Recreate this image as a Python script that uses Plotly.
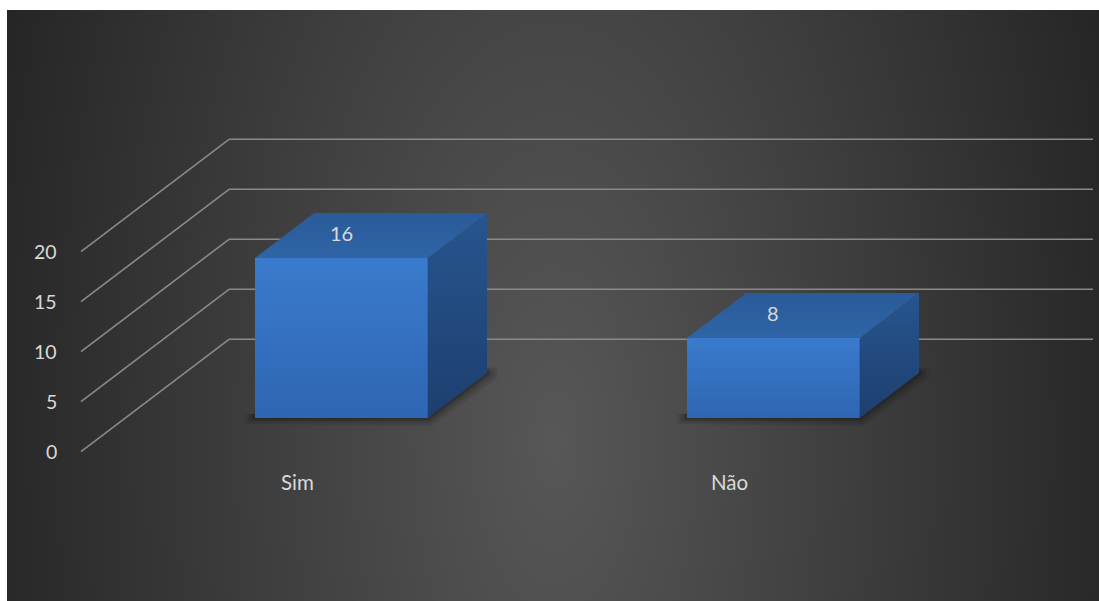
import base64
import plotly.graph_objects as go

# ---- data -------------------------------------------------------------
categories = ["Sim", "Não"]
values = [16, 8]
tick_values = [0, 5, 10, 15, 20]

# ---- oblique 3-D projection ------------------------------------------
# model space: x in category units (0..2), v in value units, d = depth 0..1
DEPTH_X = 148 / 432       # horizontal shift of the back wall (category units)
DEPTH_Y = 11.24           # vertical shift of the back wall (value units)
BAR_HALF = 0.2            # half bar width (gap width 150%)
D0, D1 = 0.3, 0.7         # bar depth span (gap depth 150%)
X_RANGE = [-81 / 432, (1099 - 81) / 432]
Y_RANGE = [(451.7 - 601) / 10, 451.7 / 10]
PX = 1 / 432              # one screen pixel in category units
PY = 1 / 10               # one screen pixel in value units

FONT = "Lato, 'Open Sans', sans-serif"
TEXT_COLOR = "#d9d9d9"
GRID_COLOR = "#8a8a8a"


def proj(x, v, d):
    return x + DEPTH_X * d, v + DEPTH_Y * d


def polygon(points, fill=None, gradient=None, opacity=1.0):
    xs, ys = zip(*points)
    kw = dict(fillgradient=gradient) if gradient else dict(fillcolor=fill)
    return go.Scatter(
        x=list(xs) + [xs[0]], y=list(ys) + [ys[0]], mode="lines",
        line=dict(width=0, color="rgba(0,0,0,0)"), fill="toself",
        opacity=opacity, hoverinfo="skip", showlegend=False, **kw,
    )


fig = go.Figure()

# ---- walls: side wall and back wall gridlines --------------------------
gx, gy = [], []
n_cat = len(categories)
for t in tick_values:
    for a, b in ((proj(0, t, 0), proj(0, t, 1)), (proj(0, t, 1), proj(n_cat, t, 1))):
        gx += [a[0], b[0], None]
        gy += [a[1], b[1], None]
fig.add_trace(go.Scatter(x=gx, y=gy, mode="lines",
                         line=dict(color=GRID_COLOR, width=1.6),
                         hoverinfo="skip", showlegend=False))

# ---- columns -----------------------------------------------------------
for i, (cat, val) in enumerate(zip(categories, values)):
    c = i + 0.5
    x0, x1 = c - BAR_HALF, c + BAR_HALF

    fbl = proj(x0, 0, D0)
    fbr = proj(x1, 0, D0)
    ftl = proj(x0, val, D0)
    ftr = proj(x1, val, D0)
    bbr = proj(x1, 0, D1)
    btr = proj(x1, val, D1)
    btl = proj(x0, val, D1)

    # soft shadow around the base
    for k, op in ((10, 0.10), (7, 0.12), (4, 0.16), (2, 0.2)):
        fig.add_trace(polygon([
            (fbl[0] - k * PX, fbl[1] + 4 * PY),
            (fbl[0] - k * PX, fbl[1] - k * 0.6 * PY),
            (fbr[0] + k * 0.4 * PX, fbr[1] - k * 0.8 * PY),
            (bbr[0] + k * PX, bbr[1] - k * 0.5 * PY),
            (bbr[0] + k * PX, bbr[1] + 6 * PY),
            (fbr[0], fbr[1] + 6 * PY),
        ], fill="#101010", opacity=op))

    # front face
    fig.add_trace(polygon([fbl, fbr, ftr, ftl], gradient=dict(
        type="vertical", start=fbl[1], stop=ftl[1],
        colorscale=[[0, "#2e66b2"], [1, "#3a7bcd"]])))
    # right face
    fig.add_trace(polygon([fbr, bbr, btr, ftr], gradient=dict(
        type="vertical", start=fbr[1], stop=btr[1],
        colorscale=[[0, "#1d3f6f"], [1, "#27558f"]])))
    # top face
    fig.add_trace(polygon([ftl, ftr, btr, btl], gradient=dict(
        type="vertical", start=ftl[1], stop=btl[1],
        colorscale=[[0, "#2f64a6"], [1, "#2a5b99"]])))

    # value label on the top face
    lx, _ = proj(c, val, D0)
    _, ly = proj(c, val, 0.5)
    fig.add_annotation(x=lx, y=ly, text=str(val), showarrow=False,
                       yshift=2.5, font=dict(family=FONT, size=20, color=TEXT_COLOR))

    # category label at the front edge of the floor
    fig.add_annotation(x=c, y=0, text=cat, showarrow=False, yshift=-30.5,
                       font=dict(family=FONT, size=20.5, color=TEXT_COLOR))

# ---- value axis labels along the front of the side wall ----------------
for t in tick_values:
    fig.add_annotation(x=0, y=t, text=str(t), showarrow=False,
                       xanchor="right", xshift=-22,
                       font=dict(family=FONT, size=19.5, color=TEXT_COLOR))

# ---- dark radial-gradient chart area -----------------------------------
W, H, LEFT, TOP = 1092, 591, 7, 10
svg = (
    f'<svg xmlns="http://www.w3.org/2000/svg" width="{W}" height="{H}" '
    f'viewBox="0 0 {W} {H}" preserveAspectRatio="none"><defs>'
    '<radialGradient id="g" gradientUnits="userSpaceOnUse" cx="0" cy="0" r="1" '
    'gradientTransform="translate(548 430) scale(580 1200)">'
    '<stop offset="0" stop-color="#575757"/><stop offset="1" stop-color="#262626"/>'
    '</radialGradient></defs>'
    f'<rect width="{W}" height="{H}" fill="url(#g)"/></svg>'
)
bg_uri = "data:image/svg+xml;base64," + base64.b64encode(svg.encode()).decode()

fig.add_layout_image(dict(
    source=bg_uri, xref="paper", yref="paper",
    x=LEFT / 1099, y=1 - TOP / 601, sizex=W / 1099, sizey=H / 601,
    xanchor="left", yanchor="top", sizing="stretch", layer="below",
))

fig.update_layout(
    width=1099, height=601,
    margin=dict(l=0, r=0, t=0, b=0, pad=0),
    paper_bgcolor="white", plot_bgcolor="rgba(0,0,0,0)",
    xaxis=dict(range=X_RANGE, visible=False, fixedrange=True),
    yaxis=dict(range=Y_RANGE, visible=False, fixedrange=True),
    showlegend=False,
)

fig.write_html("out.html", config=dict(displayModeBar=False))
